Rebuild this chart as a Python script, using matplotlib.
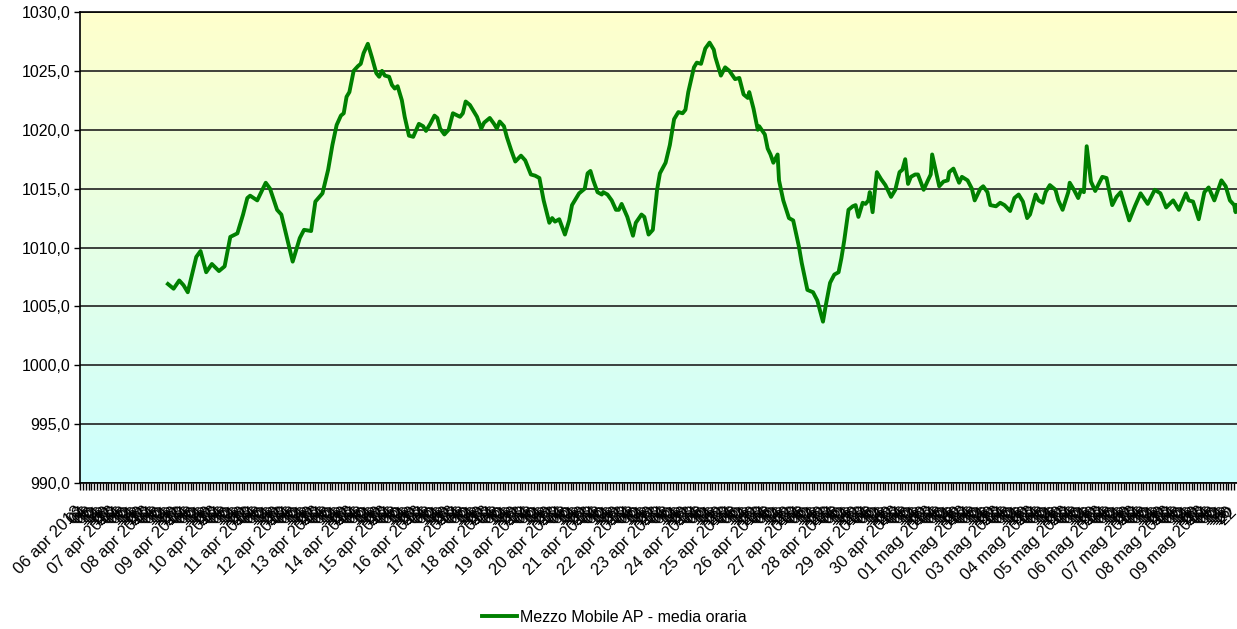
import numpy as np
import matplotlib
matplotlib.use('Agg')
import matplotlib.pyplot as plt
from matplotlib.colors import LinearSegmentedColormap
from matplotlib.ticker import FuncFormatter
from matplotlib.transforms import ScaledTranslation
from datetime import datetime, timedelta

plt.rcParams['font.family'] = ['Liberation Sans', 'DejaVu Sans']
plt.rcParams['font.size'] = 11.5

# asse delle categorie: una ogni ora dal 06 apr 2013
inizio = datetime(2013, 4, 6)
n_ore = 816
mesi = {4: 'apr', 5: 'mag'}

# ora (indice della categoria) e valore (hPa)
ore = [62, 66, 70, 73, 76, 82, 85, 89, 93, 98, 102, 106, 111, 115, 118, 120, 125, 131, 134, 139,
       142, 150, 155, 158, 163, 166, 171, 175, 178, 181,
       184, 186, 188, 190, 193, 196, 198, 200, 203, 206, 209, 211, 213, 215, 218, 220, 222, 224, 227, 229,
       232, 235, 239, 242, 244, 247, 250, 252, 254, 257, 260, 263, 268, 270, 272, 275, 278, 280, 283, 285,
       289, 292, 294, 296, 299, 301, 304, 307, 311, 314, 318, 321, 324,
       327, 331, 333, 335, 338, 342, 345, 347, 349, 352, 356, 358, 360, 362, 365, 368, 369, 372, 375, 378,
       380, 382, 386, 388, 390, 392, 396, 398, 401, 404, 407, 409, 413, 416, 419, 422, 425, 427, 429, 433,
       435, 438, 441, 444, 447,
       448, 452, 455, 458, 462, 465, 468, 471, 472, 475, 478, 479, 483, 485, 487, 489, 492, 493, 496, 500,
       503, 507, 509, 513, 517, 520, 524, 526, 529, 532, 535, 537, 539, 542, 545, 547, 549, 552, 554, 556,
       557, 559, 562, 565, 568, 572, 575, 578, 580, 582, 584, 586, 589, 591, 595, 598, 600, 601, 604, 606,
       609, 612, 613, 616, 620, 622, 626, 629, 631, 635, 637, 640, 642, 646, 649, 652, 656, 659, 662, 665,
       668, 670, 674, 676, 679, 681, 684, 688, 690, 693, 697, 698, 701, 704, 706, 708, 710, 713, 716, 721,
       724, 728, 731, 734, 740, 744, 748, 753, 758, 762, 766, 771, 775, 780, 782, 785, 789, 793, 796, 800,
       805, 808, 811, 814, 815, 816]

pressione = [1006.9, 1006.5, 1007.2, 1006.8, 1006.2, 1009.2, 1009.7, 1007.9, 1008.6, 1008.0, 1008.4, 1010.9,
             1011.2, 1012.8, 1014.2, 1014.4, 1014.0, 1015.5, 1015.0, 1013.2, 1012.8, 1008.8, 1010.8, 1011.5,
             1011.4, 1013.9, 1014.6, 1016.6, 1018.7, 1020.4,
             1021.2, 1021.4, 1022.8, 1023.2, 1025.0, 1025.4, 1025.6, 1026.5, 1027.3, 1026.1, 1024.8, 1024.5,
             1025.0, 1024.6, 1024.5, 1023.8, 1023.5, 1023.7, 1022.5, 1021.1, 1019.5, 1019.4, 1020.5, 1020.3,
             1019.9, 1020.5, 1021.2, 1021.0, 1020.1, 1019.6, 1020.0, 1021.4, 1021.1, 1021.4, 1022.4, 1022.1,
             1021.5, 1021.1, 1020.1, 1020.6, 1021.0, 1020.5, 1020.1, 1020.7, 1020.3, 1019.4, 1018.3, 1017.3,
             1017.8, 1017.4, 1016.2, 1016.1, 1015.9,
             1014.0, 1012.1, 1012.5, 1012.2, 1012.4, 1011.1, 1012.3, 1013.6, 1014.0, 1014.6, 1015.0, 1016.3,
             1016.5, 1015.7, 1014.7, 1014.5, 1014.7, 1014.5, 1014.0, 1013.2, 1013.2, 1013.7, 1012.6, 1011.8,
             1011.0, 1012.1, 1012.8, 1012.6, 1011.1, 1011.5, 1014.9, 1016.3, 1017.2, 1018.7, 1020.9, 1021.5,
             1021.4, 1021.7, 1023.2, 1025.3, 1025.7, 1025.6, 1026.9, 1027.4, 1026.8,
             1026.2, 1024.6, 1025.3, 1025.0, 1024.3, 1024.4, 1023.0, 1022.7, 1023.2, 1021.8, 1020.0, 1020.3,
             1019.6, 1018.4, 1017.9, 1017.2, 1017.9, 1015.7, 1014.0, 1012.5, 1012.3, 1010.1, 1008.7, 1006.4,
             1006.2, 1005.5, 1003.7, 1005.1, 1007.0, 1007.7, 1007.9, 1009.1, 1010.6, 1013.2, 1013.5, 1013.6,
             1012.6, 1013.8, 1013.7, 1014.0, 1014.7, 1013.0, 1016.4, 1015.8, 1015.3, 1014.3, 1014.9, 1016.4,
             1016.6, 1017.5, 1015.4, 1016.0, 1016.2, 1016.2, 1014.9, 1015.7, 1016.2, 1017.9, 1016.3, 1015.2,
             1015.6, 1015.7, 1016.4, 1016.7, 1015.5, 1016.0, 1015.7, 1015.0, 1014.0, 1015.0, 1015.2, 1014.7,
             1013.6, 1013.5, 1013.8, 1013.6, 1013.1, 1014.2, 1014.5, 1013.9, 1012.5, 1012.8, 1014.5, 1014.0,
             1013.8, 1014.7, 1015.3, 1014.9, 1014.0, 1013.2, 1014.7, 1015.5, 1014.9, 1014.2, 1014.9, 1014.7,
             1018.6, 1015.6, 1014.8, 1016.0, 1015.9, 1013.6, 1014.3, 1014.7, 1012.3, 1013.5, 1014.6, 1013.7,
             1014.9, 1014.6, 1013.4, 1014.0, 1013.2, 1014.6, 1014.0, 1013.9, 1012.4, 1014.7, 1015.1, 1014.0,
             1015.7, 1015.2, 1014.0, 1013.6, 1013.0, 1013.6]

# etichette asse x: una ogni due ore, la data solo a mezzanotte
posizioni = list(range(0, n_ore, 2))
etichette = []
for h in posizioni:
    t = inizio + timedelta(hours=h)
    if t.hour == 0:
        etichette.append(f"{t.day:02d} {mesi[t.month]} {t.year}")
    else:
        etichette.append(f"{t.hour:02d}")

fig = plt.figure(figsize=(12.37, 6.29), dpi=100)
ax = fig.add_axes([80/1237, 1 - 483/629, 1157/1237, 471/629])

# sfondo sfumato giallo -> azzurro
sfumatura = LinearSegmentedColormap.from_list('sfondo', ['#CCFFFF', '#FFFFCC'])
ax.imshow(np.linspace(0, 1, 256).reshape(-1, 1), cmap=sfumatura, aspect='auto',
          origin='lower', extent=[0, n_ore, 990, 1030], zorder=0)

linea, = ax.plot(ore, pressione, color='#008000', lw=2.8, zorder=3,
                 label='Mezzo Mobile AP - media oraria', solid_joinstyle='round')

ax.set_xlim(0, n_ore)
ax.set_ylim(990, 1030)
ax.set_yticks(range(990, 1031, 5))
ax.yaxis.set_major_formatter(FuncFormatter(lambda v, p: f"{v:.1f}".replace('.', ',')))
ax.yaxis.grid(True, color='#202020', lw=1.2)
ax.set_axisbelow(True)

ax.set_xticks(posizioni)
ax.set_xticklabels(etichette, rotation=45, ha='right', va='top', rotation_mode='anchor', fontsize=12)
ax.tick_params(axis='x', length=5, width=1, pad=6)
ax.tick_params(axis='y', length=4, width=1, pad=3)

# sposta le etichette un po' in basso a sinistra
spostamento = ScaledTranslation(-4/72, -4/72, fig.dpi_scale_trans)
for lab in ax.get_xticklabels():
    lab.set_transform(lab.get_transform() + spostamento)

for s in ['left', 'bottom', 'top']:
    ax.spines[s].set_color('black')
    ax.spines[s].set_linewidth(1.2)
ax.spines['right'].set_visible(False)

fig.legend(handles=[linea], loc='center', bbox_to_anchor=(0.4968, 1 - 617/629), frameon=False,
           handlelength=2.2, handletextpad=0.2, fontsize=11.5)

fig.savefig('out.png', dpi=100)
